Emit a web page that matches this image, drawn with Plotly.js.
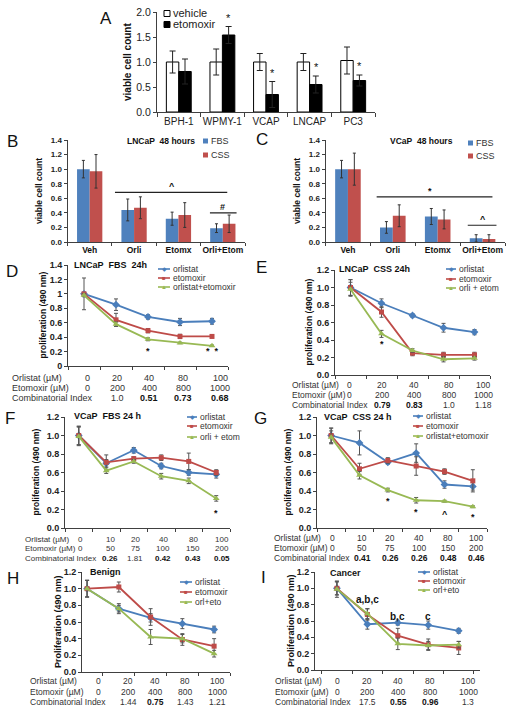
<!DOCTYPE html>
<html><head><meta charset="utf-8">
<script src="https://cdn.plot.ly/plotly-3.0.1.min.js"></script>
<style>html,body{margin:0;padding:0;background:#fff}#chart{width:512px;height:711px}</style>
</head><body><div id="chart"></div>
<script>
// ---------------- DATA ----------------
// Panel A
const aCells=['BPH-1','WPMY-1','VCAP','LNCAP','PC3'];
const aVehicle=[1.00,1.00,1.00,1.00,1.03];
const aVehicleErr=[0.22,0.26,0.17,0.17,0.27];
const aEtomoxir=[0.81,1.54,0.35,0.55,0.63];
const aEtomoxirErr=[0.25,0.17,0.26,0.17,0.11];
const aSig=['','*','*','*','*'];

// Panels B, C
const bcGroups=['Veh','Orli','Etomx','Orli+Etom'];
const bFBS=[1.00,0.44,0.32,0.19], bFBSErr=[0.12,0.15,0.09,0.06];
const bCSS=[0.97,0.47,0.37,0.25], bCSSErr=[0.23,0.15,0.17,0.12];
const cFBS=[1.00,0.20,0.35,0.05], cFBSErr=[0.12,0.08,0.11,0.05];
const cCSS=[1.00,0.36,0.31,0.04], cCSSErr=[0.22,0.15,0.13,0.06];

// Dose rows
const orliDose5=['0','20','40','80','100'];
const etoDose5=['0','200','400','800','1000'];
const orliDose6=['0','10','20','40','80','100'];
const etoDose6=['0','50','75','100','150','200'];

// Panel D  LNCaP FBS 24h
const dOrl=[1.00,0.85,0.68,0.61,0.62], dOrlErr=[0.22,0.08,0.03,0.05,0.04];
const dEto=[1.00,0.64,0.49,0.41,0.41], dEtoErr=[0.02,0.09,0.03,0.03,0.02];
const dCmb=[0.98,0.58,0.37,0.32,0.28], dCmbErr=[0.02,0.03,0.02,0.01,0.01];
const dCI=['1.0','0.51','0.73','0.68'], dCIBold=[false,true,true,true];
const dSigAt=['40','100'], dSigText=['*','*\u00a0\u00a0*'], dSigY=[0.21,0.21];

// Panel E  LNCaP CSS 24h
const eOrl=[1.00,0.82,0.68,0.54,0.49], eOrlErr=[0.09,0.05,0.02,0.05,0.03];
const eEto=[1.00,0.72,0.25,0.23,0.23], eEtoErr=[0.09,0.06,0.03,0.03,0.03];
const eCmb=[0.98,0.47,0.28,0.18,0.19], eCmbErr=[0.08,0.04,0.02,0.03,0.02];
const eCI=['0.79','0.83','1.0','1.18'], eCIBold=[true,true,false,false];
const eSigAt=['20'], eSigText=['*'], eSigY=[0.35];

// Panel F  VCaP FBS 24 h
const fOrl=[1.00,0.70,0.84,0.67,0.60,0.58], fOrlErr=[0.10,0.04,0.03,0.03,0.03,0.04];
const fEto=[1.00,0.71,0.75,0.76,0.72,0.60], fEtoErr=[0.10,0.08,0.02,0.03,0.09,0.03];
const fCmb=[0.99,0.62,0.72,0.56,0.51,0.32], fCmbErr=[0.10,0.03,0.02,0.03,0.03,0.03];
const fCI=['0.26','1.81','0.42','0.43','0.05'], fCIBold=[true,false,true,true,true];
const fSigAt=['100'], fSigText=['*'], fSigY=[0.16];

// Panel G  VCaP CSS 24 h
const gOrl=[1.00,0.92,0.71,0.81,0.47,0.45], gOrlErr=[0.08,0.13,0.02,0.10,0.04,0.04];
const gEto=[1.00,0.64,0.73,0.67,0.61,0.51], gEtoErr=[0.08,0.06,0.03,0.10,0.03,0.12];
const gCmb=[0.98,0.57,0.41,0.30,0.29,0.23], gCmbErr=[0.07,0.04,0.02,0.03,0.01,0.01];
const gCI=['0.41','0.26','0.26','0.48','0.46'], gCIBold=[true,true,true,true,true];
const gSigAt=['20','40','80','100'], gSigText=['*','*','^','*'], gSigY=[0.29,0.17,0.15,0.12];

// Panel H  Benign
const hOrl=[1.00,0.76,0.65,0.58,0.51], hOrlErr=[0.10,0.06,0.05,0.06,0.04];
const hEto=[1.00,1.02,0.66,0.39,0.31], hEtoErr=[0.10,0.06,0.10,0.07,0.09];
const hCmb=[1.00,0.76,0.42,0.40,0.22], hCmbErr=[0.10,0.04,0.09,0.05,0.04];
const hCI=['1.44','0.75','1.43','1.21'], hCIBold=[false,true,false,false];

// Panel I  Cancer
const iOrl=[1.00,0.56,0.58,0.55,0.48], iOrlErr=[0.08,0.06,0.03,0.05,0.03];
const iEto=[1.00,0.68,0.42,0.31,0.27], iEtoErr=[0.08,0.07,0.09,0.07,0.08];
const iCmb=[0.99,0.69,0.32,0.30,0.31], iCmbErr=[0.10,0.06,0.07,0.05,0.04];
const iCI=['17.5','0.55','0.96','1.3'], iCIBold=[false,true,true,false];
const iSigAt=['20','40','80'], iSigText=['a,b,c','b,c','c'], iSigY=[0.86,0.65,0.65];

// ---------------- STYLE / LAYOUT ----------------
const W=512,H=711;
const X=p=>p/W, Y=p=>1-p/H;
const FONT='"Liberation Sans", Arial, sans-serif';
const BLUE='#4A7EBB', RED='#BE4B48', GREEN='#98B954';
const BARBLUE='#4F81BD', BARRED='#C0504D';
const AX='#404040', ERRC='#555555', TXT='#333333';

const traces=[], annotations=[], shapes=[];
const layout={width:W,height:H,margin:{l:0,r:0,t:0,b:0},paper_bgcolor:'#fff',plot_bgcolor:'#fff',
  showlegend:false,font:{family:FONT,color:'#222'},barmode:'group',bargap:0.43,bargroupgap:0,
  annotations:annotations,shapes:shapes};

function axes(n,xpx,ypx,o){
  const s=n===1?'':String(n);
  layout['xaxis'+s]={domain:[X(xpx[0]),X(xpx[1])],anchor:'y'+s,type:'category',range:o.xr,
    showline:true,linecolor:AX,linewidth:1,ticks:'outside',ticklen:o.xtl||3,tickcolor:AX,
    tickson:'boundaries',showgrid:false,zeroline:false,showticklabels:!!o.xfont,tickangle:0,
    tickfont:o.xfont||{size:8},fixedrange:true};
  layout['yaxis'+s]={domain:[Y(ypx[0]),Y(ypx[1])],anchor:'x'+s,range:o.yr,dtick:o.dt,tick0:0,
    tickformat:o.fmt,showline:true,linecolor:AX,linewidth:1,ticks:'outside',ticklen:3,tickcolor:AX,
    showgrid:false,zeroline:false,tickfont:o.yfont,fixedrange:true};
}
function txt(text,xpx,ypx,o){
  o=o||{};
  annotations.push({text:text,x:X(xpx),y:Y(ypx),xref:'paper',yref:'paper',showarrow:false,
    xanchor:o.xa||'center',yanchor:o.ya||'middle',textangle:o.angle||0,
    font:{family:FONT,size:o.size||9,color:o.color||TXT,weight:o.bold?'bold':'normal'}});
}
function ytitle(text,xpx,ypx,size){txt(text,xpx,ypx,{angle:-90,size:size,bold:true,color:'#111'});}

// ---------- Panel A ----------
axes(1,[157,375],[112,12],{xr:[-0.5,4.5],yr:[0,2],dt:0.5,fmt:'.1f',xtl:4,
  xfont:{size:10,color:'#222'},yfont:{size:10.5,color:'#222'}});
traces.push({type:'bar',name:'vehicle',x:aCells,y:aVehicle,xaxis:'x',yaxis:'y',
  marker:{color:'#fff',line:{color:'#000',width:1}},
  error_y:{type:'data',array:aVehicleErr,color:'#222',thickness:1,width:3}});
traces.push({type:'bar',name:'etomoxir',x:aCells,y:aEtomoxir,xaxis:'x',yaxis:'y',
  marker:{color:'#000',line:{color:'#000',width:1}},
  error_y:{type:'data',array:aEtomoxirErr,color:'#222',thickness:1,width:3}});
aCells.forEach((c,i)=>{ if(aSig[i]) annotations.push({text:aSig[i],x:c,y:aEtomoxir[i]+aEtomoxirErr[i]+0.02,
  xref:'x',yref:'y',xshift:6.5,showarrow:false,yanchor:'bottom',font:{family:FONT,size:11,color:'#111'}});});
ytitle('viable cell count',128,62,10);
txt('A',106,19,{size:17,color:'#111'});
shapes.push({type:'rect',xref:'paper',yref:'paper',x0:X(164),x1:X(170),y0:Y(16.5),y1:Y(10.5),line:{color:'#000',width:1},fillcolor:'#fff'});
shapes.push({type:'rect',xref:'paper',yref:'paper',x0:X(164),x1:X(170),y0:Y(27.5),y1:Y(21.5),line:{color:'#000',width:1},fillcolor:'#000'});
txt('vehicle',171,13.5,{xa:'left',size:11,color:'#222'});
txt('etomoxir',171,24.5,{xa:'left',size:11,color:'#222'});

// ---------- Panels B, C ----------
function barPanel(n,xpx,fbs,fbsErr,css,cssErr,title,titleX,legX,legY,letter,letX,letY,ytx,sig){
  const s=String(n);
  axes(n,xpx,[242,140],{xr:[-0.5,3.5],yr:[0,1.4],dt:0.2,fmt:'.1f',xtl:3,
    xfont:{size:8.5,color:'#111',weight:'bold'},yfont:{size:8,color:'#222',weight:'bold'}});
  traces.push({type:'bar',name:'FBS',x:bcGroups,y:fbs,xaxis:'x'+s,yaxis:'y'+s,marker:{color:BARBLUE},
    error_y:{type:'data',array:fbsErr,color:'#333',thickness:1,width:1.5}});
  traces.push({type:'bar',name:'CSS',x:bcGroups,y:css,xaxis:'x'+s,yaxis:'y'+s,marker:{color:BARRED},
    error_y:{type:'data',array:cssErr,color:'#333',thickness:1,width:1.5}});
  txt(title,titleX,141,{bold:true,size:8.5,color:'#111'});
  shapes.push({type:'rect',xref:'paper',yref:'paper',x0:X(legX),x1:X(legX+5),y0:Y(legY[0]+2.5),y1:Y(legY[0]-2.5),line:{width:0},fillcolor:BARBLUE});
  shapes.push({type:'rect',xref:'paper',yref:'paper',x0:X(legX),x1:X(legX+5),y0:Y(legY[1]+2.5),y1:Y(legY[1]-2.5),line:{width:0},fillcolor:BARRED});
  txt('FBS',legX+6,legY[0],{xa:'left',size:9});
  txt('CSS',legX+6,legY[1],{xa:'left',size:9});
  txt(letter,letX,letY,{size:17,color:'#111'});
  ytitle('viable cell count',ytx,191,8.5);
  sig.forEach(g=>{
    shapes.push({type:'line',xref:'x'+s,yref:'y'+s,x0:g[0],x1:g[1],y0:g[2],y1:g[2],line:{color:'#222',width:1.2}});
    annotations.push({text:g[3],x:g[4],y:g[2],xref:'x'+s,yref:'y'+s,showarrow:false,yanchor:'bottom',yshift:-1,
      font:{family:FONT,size:9,color:'#111',weight:'bold'}});
  });
}
barPanel(2,[67.5,245],bFBS,bFBSErr,bCSS,bCSSErr,'LNCaP\u00a0\u00a048 hours',161,203,[141,155],'B',12,141,39,
  [[0.57,3.1,0.68,'^',1.85],[2.71,3.31,0.40,'#',3.0]]);
barPanel(3,[325.5,505],cFBS,cFBSErr,cCSS,cCSSErr,'VCaP\u00a0\u00a048 hours',421,468,[143,156],'C',262,139,297,
  [[0.64,3.22,0.62,'*',1.82],[2.67,3.31,0.23,'^',3.0]]);

// ---------- Line panels ----------
const SYMS=['diamond','square','triangle-up'], COLS=[BLUE,RED,GREEN], LEGSYM=['\u25C6','\u25A0','\u25B2'];
function linePanel(p){
  const s=String(p.n);
  axes(p.n,p.x,p.y,{xr:p.xr,yr:p.yr,dt:0.2,fmt:p.fmt,xtl:3,yfont:{size:9,color:'#222',weight:'bold'}});
  p.series.forEach((sr,k)=>{
    traces.push({type:'scatter',mode:'lines+markers',name:p.names[k],x:p.cats,y:sr[0],xaxis:'x'+s,yaxis:'y'+s,
      line:{color:COLS[k],width:1.8},marker:{symbol:SYMS[k],size:k===1?5:6,color:COLS[k]},
      error_y:{type:'data',array:sr[1],color:ERRC,thickness:1,width:2}});
    // legend
    const ly=p.leg.rows[k];
    shapes.push({type:'line',xref:'paper',yref:'paper',x0:X(p.leg.x0),x1:X(p.leg.x1),y0:Y(ly),y1:Y(ly),line:{color:COLS[k],width:1.6}});
    txt(LEGSYM[k],(p.leg.x0+p.leg.x1)/2,ly,{size:6,color:COLS[k]});
    txt(p.names[k],p.leg.tx,ly,{xa:'left',size:8.5,color:TXT});
  });
  txt(p.title,p.tx,p.ty,{xa:'left',bold:true,size:9,color:'#111'});
  txt(p.letter,p.lx,p.ly,{size:17,color:'#111'});
  ytitle(p.ytitle,p.ytx,(p.y[0]+p.y[1])/2,p.ytfs);
  // dose table
  const t=p.table;
  txt('Orlistat (\u00b5M)',t.lx,t.rows[0],{xa:'left',size:t.fs});
  txt('Etomoxir (\u00b5M)',t.lx,t.rows[1],{xa:'left',size:t.fs});
  txt('Combinatorial Index',t.lx,t.rows[2],{xa:'left',size:t.fs});
  t.orli.forEach((v,i)=>txt(v,t.cols[i],t.rows[0],{size:t.fs}));
  t.eto.forEach((v,i)=>txt(v,t.cols[i],t.rows[1],{size:t.fs}));
  t.ci.forEach((v,i)=>txt(v,t.cols[i+1],t.rows[2],{size:t.fs,bold:t.ciBold[i],color:t.ciBold[i]?'#111':TXT}));
  if(p.sig){
    p.sig[0].forEach((c,i)=>{
      annotations.push({text:p.sig[1][i],x:p.cats.indexOf(c),y:p.sig[2][i],xref:'x'+s,yref:'y'+s,showarrow:false,
        yanchor:'middle',font:{family:FONT,size:p.sigfs||9,color:'#111',weight:'bold'}});
    });
  }
}

linePanel({n:4,x:[68,228],y:[366,265],yr:[0,1.4],fmt:'',xr:[-0.5,4.5],cats:orliDose5,
  series:[[dOrl,dOrlErr],[dEto,dEtoErr],[dCmb,dCmbErr]],names:['orlistat','etomoxir','orlistat+etomoxir'],
  title:'LNCaP\u00a0\u00a0FBS\u00a0\u00a024h',tx:72,ty:265,leg:{x0:158,x1:170,tx:171,rows:[269,278,287]},
  letter:'D',lx:12,ly:271,ytitle:'proliferation (490 nm)',ytx:43,ytfs:8.5,
  table:{lx:10,rows:[378,388,398],cols:[87,117,149,183,220],fs:9,orli:orliDose5,eto:etoDose5,ci:dCI,ciBold:dCIBold},
  sig:[dSigAt,dSigText,dSigY]});

linePanel({n:5,x:[335,490],y:[375,270],yr:[0,1.2],fmt:'.1f',xr:[-0.5,4.5],cats:orliDose5,
  series:[[eOrl,eOrlErr],[eEto,eEtoErr],[eCmb,eCmbErr]],names:['orlistat','etomoxir','orli + etom'],
  title:'LNCaP\u00a0\u00a0CSS 24h',tx:337,ty:269,leg:{x0:446,x1:456,tx:457,rows:[269,279,288]},
  letter:'E',lx:261,ly:267,ytitle:'proliferation (490 nm)',ytx:308,ytfs:8.5,
  table:{lx:290,rows:[385,395,405],cols:[349,382,414,449,483],fs:8.5,orli:orliDose5,eto:etoDose5,ci:eCI,ciBold:eCIBold},
  sig:[eSigAt,eSigText,eSigY]});

linePanel({n:6,x:[65,230],y:[528,417],yr:[0,1.2],fmt:'.1f',xr:[-0.5,5.5],cats:orliDose6,
  series:[[fOrl,fOrlErr],[fEto,fEtoErr],[fCmb,fCmbErr]],names:['orlistat','etomoxir','orli + etom'],
  title:'VCaP\u00a0\u00a0FBS 24 h',tx:72,ty:416,leg:{x0:187,x1:197,tx:198,rows:[417,426,437]},
  letter:'F',lx:10,ly:419,ytitle:'proliferation (490 nm)',ytx:35,ytfs:8.5,
  table:{lx:23,rows:[539,548,558],cols:[80,110,135,163,193,222],fs:8,orli:orliDose6,eto:etoDose6,ci:fCI,ciBold:fCIBold},
  sig:[fSigAt,fSigText,fSigY]});

linePanel({n:7,x:[317,487],y:[528,417],yr:[0,1.2],fmt:'.1f',xr:[-0.5,5.5],cats:orliDose6,
  series:[[gOrl,gOrlErr],[gEto,gEtoErr],[gCmb,gCmbErr]],names:['orlistat','etomoxir','orlistat+etomoxir'],
  title:'VCaP\u00a0\u00a0CSS 24 h',tx:322,ty:417,leg:{x0:413,x1:423,tx:424,rows:[416,426,436]},
  letter:'G',lx:260,ly:418,ytitle:'proliferation (490 nm)',ytx:287,ytfs:8.5,
  table:{lx:272,rows:[538,548,558],cols:[332,362,390,419,448,476],fs:8.5,orli:orliDose6,eto:etoDose6,ci:gCI,ciBold:gCIBold},
  sig:[gSigAt,gSigText,gSigY]});

linePanel({n:8,x:[82,230],y:[672,572],yr:[0,1.2],fmt:'.1f',xr:[-0.16,4.5],cats:orliDose5,
  series:[[hOrl,hOrlErr],[hEto,hEtoErr],[hCmb,hCmbErr]],names:['orlistat','etomoxir','orl+eto'],
  title:'Benign',tx:88,ty:572,leg:{x0:180,x1:192,tx:193,rows:[582,592,602]},
  letter:'H',lx:13,ly:578,ytitle:'Proliferation (490 nm)',ytx:58,ytfs:9,
  table:{lx:28,rows:[681,692,702],cols:[98,128,155,185,217],fs:8.5,orli:orliDose5,eto:etoDose5,ci:hCI,ciBold:hCIBold}});

linePanel({n:9,x:[315,480],y:[670,572],yr:[0,1.2],fmt:'.1f',xr:[-0.72,4.7],cats:orliDose5,
  series:[[iOrl,iOrlErr],[iEto,iEtoErr],[iCmb,iCmbErr]],names:['orlistat','etomoxir','orl+eto'],
  title:'Cancer',tx:328,ty:573,leg:{x0:418,x1:430,tx:431,rows:[572,581,590]},
  letter:'I',lx:263,ly:577,ytitle:'Proliferation (490 nm)',ytx:291,ytfs:9,
  table:{lx:273,rows:[681,692,702],cols:[337,367,398,430,468],fs:8.5,orli:orliDose5,eto:etoDose5,ci:iCI,ciBold:iCIBold},
  sig:[iSigAt,iSigText,iSigY],sigfs:10});

Plotly.newPlot('chart',traces,layout,{staticPlot:true,displayModeBar:false});
</script></body></html>
